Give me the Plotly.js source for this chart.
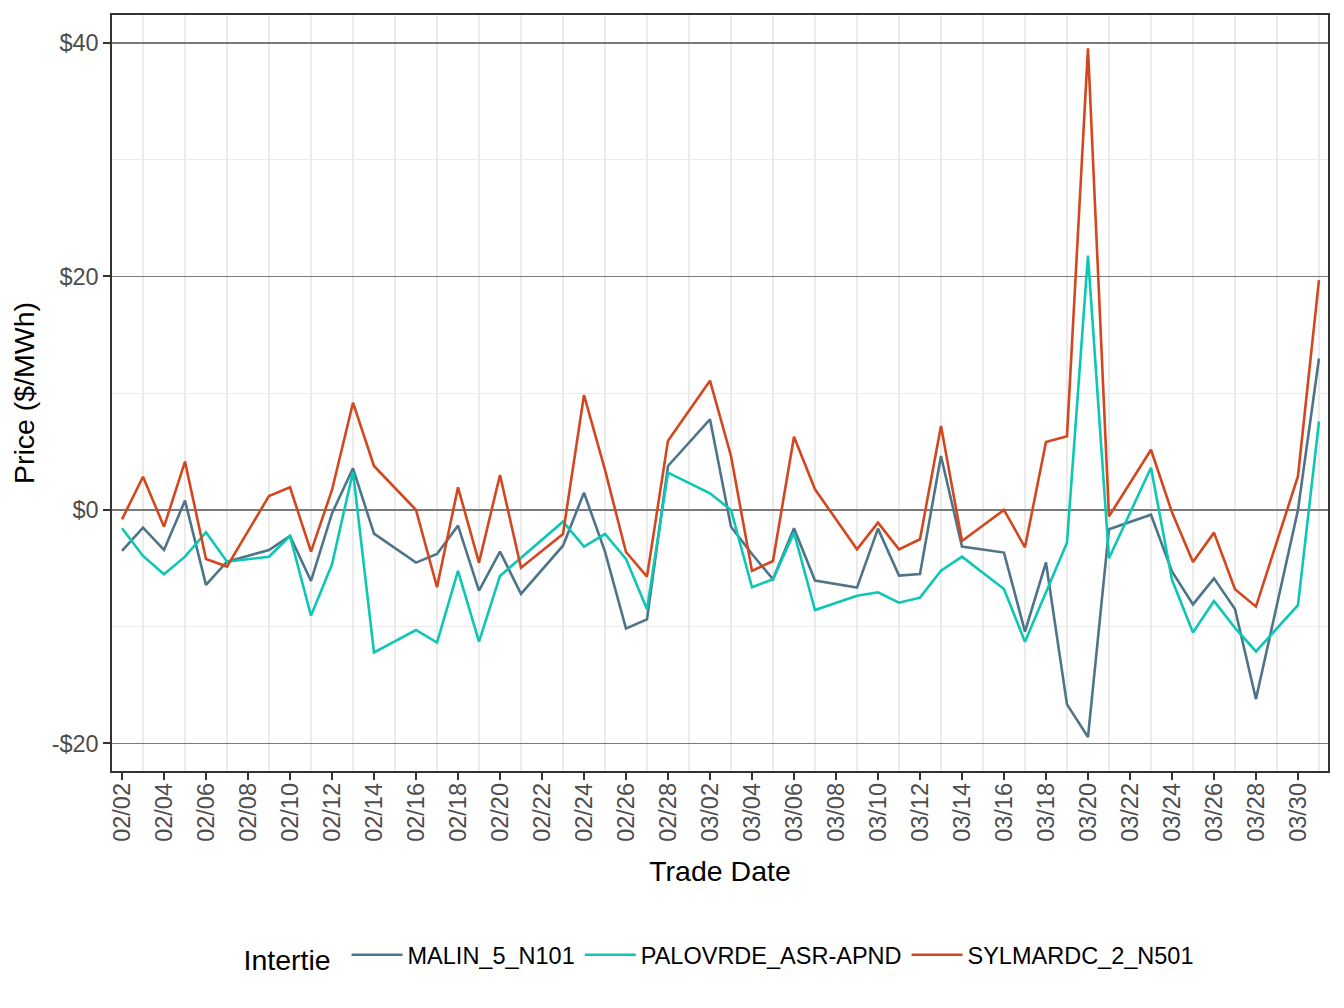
<!DOCTYPE html>
<html>
<head>
<meta charset="utf-8">
<script src="https://cdn.plot.ly/plotly-3.0.1.min.js"></script>
<style>
  html, body { margin: 0; padding: 0; background: #ffffff; }
  #chart { width: 1344px; height: 1008px; }
</style>
</head>
<body>
<div id="chart"></div>
<script>
// Trade dates (2023); weekly gaps on 02/08, 02/15, 02/22, 03/01, 03/08, 03/15, 03/22, 03/29
const tradeDates = [
  '2023-02-02','2023-02-03','2023-02-04','2023-02-05','2023-02-06','2023-02-07',
  '2023-02-09','2023-02-10','2023-02-11','2023-02-12','2023-02-13','2023-02-14',
  '2023-02-16','2023-02-17','2023-02-18','2023-02-19','2023-02-20','2023-02-21',
  '2023-02-23','2023-02-24','2023-02-25','2023-02-26','2023-02-27','2023-02-28',
  '2023-03-02','2023-03-03','2023-03-04','2023-03-05','2023-03-06','2023-03-07',
  '2023-03-09','2023-03-10','2023-03-11','2023-03-12','2023-03-13','2023-03-14',
  '2023-03-16','2023-03-17','2023-03-18','2023-03-19','2023-03-20','2023-03-21',
  '2023-03-23','2023-03-24','2023-03-25','2023-03-26','2023-03-27','2023-03-28',
  '2023-03-30','2023-03-31'
];

const malin = [
  -3.51, -1.51, -3.43, 0.80, -6.42, -4.43,
  -3.43, -2.23, -6.08, -0.29, 3.57, -2.03,
  -4.51, -3.77, -1.34, -6.91, -3.57, -7.19,
  -3.06, 1.48, -3.57, -10.14, -9.37, 3.77,
  7.77, -1.43, -3.77, -5.94, -1.57, -6.05,
  -6.65, -1.60, -5.62, -5.48, 4.63, -3.14,
  -3.65, -10.42, -4.50, -16.65, -19.45, -1.65,
  -0.41, -5.26, -8.09, -5.86, -8.48, -16.20,
  0.00, 12.98
];

const palovrde = [
  -1.57, -3.94, -5.51, -4.00, -1.91, -4.43,
  -4.00, -2.23, -9.05, -4.65, 3.28, -12.20,
  -10.28, -11.36, -5.22, -11.28, -5.65, -4.08,
  -1.00, -3.14, -2.06, -4.20, -8.51, 3.20,
  1.43, 0.00, -6.62, -5.94, -1.94, -8.57,
  -7.34, -7.05, -7.94, -7.51, -5.20, -4.00,
  -6.77, -11.28, -7.05, -2.80, 21.79, -4.13,
  3.62, -5.98, -10.50, -7.80, -10.10, -12.12,
  -8.16, 7.58
];

const sylmar = [
  -0.80, 2.85, -1.43, 4.14, -4.20, -4.85,
  1.20, 1.94, -3.57, 1.71, 9.19, 3.77,
  0.00, -6.62, 1.94, -4.51, 3.00, -4.94,
  -2.06, 9.85, 3.43, -3.60, -5.71, 5.94,
  11.08, 4.63, -5.22, -4.37, 6.28, 1.77,
  -3.37, -1.08, -3.37, -2.51, 7.20, -2.66,
  0.00, -3.20, 5.82, 6.32, 39.55, -0.55,
  5.16, -0.20, -4.45, -1.94, -6.79, -8.28,
  2.90, 19.69
];

const seriesNames = ['MALIN_5_N101', 'PALOVRDE_ASR-APND', 'SYLMARDC_2_N501'];
const seriesColors = ['#4e7489', '#0cc7b3', '#d4461d'];
const yTickVals = [-20, 0, 20, 40];
const yTickText = ['-$20', '$0', '$20', '$40'];

const FONT = 'Liberation Sans, Arial, Helvetica, sans-serif';
const allSeries = [malin, palovrde, sylmar];

const traces = allSeries.map((vals, i) => ({
  type: 'scatter',
  mode: 'lines',
  x: tradeDates,
  y: vals,
  name: seriesNames[i],
  line: { color: seriesColors[i], width: 2.6 },
  hoverinfo: 'x+y+name'
}));

const DAY = 86400000;

const layout = {
  width: 1344,
  height: 1008,
  paper_bgcolor: '#ffffff',
  plot_bgcolor: '#ffffff',
  margin: { l: 112, r: 16, t: 15, b: 237 },
  font: { family: FONT, color: '#000000' },
  showlegend: true,
  xaxis: {
    type: 'date',
    range: ['2023-02-01 12:34', '2023-03-31 10:19'],
    tick0: '2023-02-02',
    dtick: 2 * DAY,
    tickformat: '%m/%d',
    tickangle: -90,
    ticks: 'outside',
    ticklen: 7,
    tickwidth: 2,
    tickcolor: '#333333',
    ticklabelstandoff: -6,
    tickfont: { family: FONT, size: 23.5, color: '#4d4d4d' },
    showgrid: false,
    minor: {
      tick0: '2023-02-03',
      dtick: 2 * DAY,
      showgrid: true,
      gridcolor: '#ebebeb',
      gridwidth: 1.6,
      ticks: ''
    },
    showline: true,
    mirror: true,
    linecolor: '#333333',
    linewidth: 1.6,
    zeroline: false,
    automargin: false,
    title: { text: 'Trade Date', font: { family: FONT, size: 28.5, color: '#000000' }, standoff: 20 }
  },
  yaxis: {
    range: [-22.36, 42.40],
    tickvals: yTickVals,
    ticktext: yTickText,
    ticks: 'outside',
    ticklen: 7,
    tickwidth: 2,
    tickcolor: '#333333',
    tickfont: { family: FONT, size: 23.5, color: '#4d4d4d' },
    showgrid: true,
    gridcolor: '#7a7a7a',
    gridwidth: 1.1,
    minor: {
      tick0: 10,
      dtick: 20,
      showgrid: true,
      gridcolor: '#ebebeb',
      gridwidth: 1.1,
      ticks: ''
    },
    showline: true,
    mirror: true,
    linecolor: '#333333',
    linewidth: 1.6,
    zeroline: false,
    automargin: false,
    title: { text: 'Price ($/MWh)', font: { family: FONT, size: 28.5, color: '#000000' }, standoff: 8 }
  },
  legend: {
    orientation: 'h',
    x: 0.5,
    xanchor: 'center',
    y: -0.246,
    yanchor: 'middle',
    font: { family: FONT, size: 23.5, color: '#000000' },
    title: { text: 'Intertie ', side: 'left', font: { family: FONT, size: 28.5, color: '#000000' } },
    itemwidth: 51,
    bgcolor: 'rgba(0,0,0,0)'
  }
};

Plotly.newPlot('chart', traces, layout, { staticPlot: true, displayModeBar: false });
</script>
</body>
</html>
